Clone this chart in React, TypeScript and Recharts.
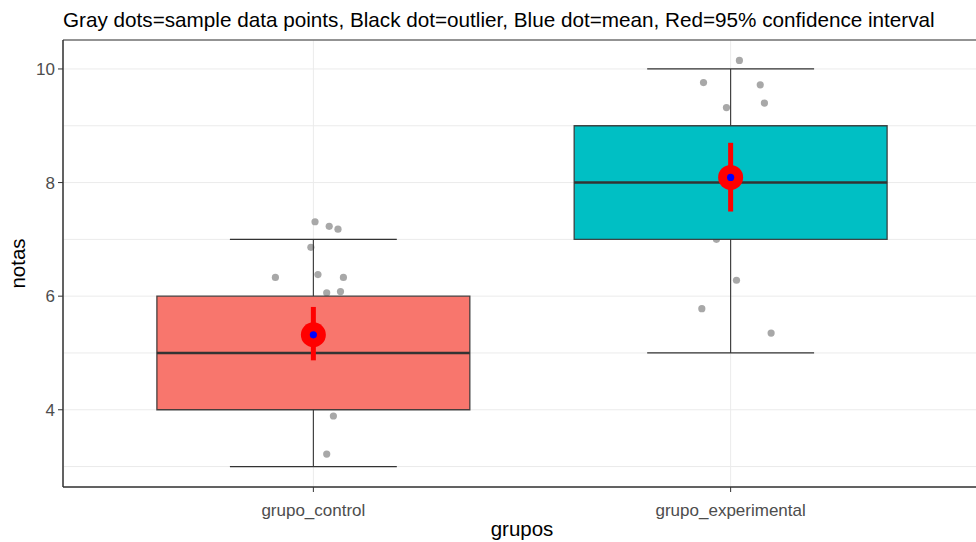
import React from 'react';
import {
  ComposedChart,
  XAxis,
  YAxis,
  CartesianGrid,
  Scatter,
  ReferenceArea,
  ReferenceLine,
  ErrorBar,
  Label,
} from 'recharts';

// ---- data ----
const categories = ['grupo_control', 'grupo_experimental'];
const catPositions = [1, 2];
const whiskerLow = [3, 5];
const quartile1 = [4, 7];
const medians = [5, 8];
const quartile3 = [6, 9];
const whiskerHigh = [7, 10];
const means = [5.32, 8.09];
const ciLow = [4.87, 7.49];
const ciHigh = [5.81, 8.7];

// jittered sample points (x in category units, y = nota)
const controlJitterX = [1.004, 1.038, 1.059, 0.994, 0.909, 1.011, 1.072, 1.032, 1.065, 1.048, 1.032];
const controlValues = [7.31, 7.23, 7.18, 6.86, 6.33, 6.38, 6.33, 6.06, 6.08, 3.89, 3.22];
const experimentalJitterX = [2.021, 1.935, 2.071, 1.99, 2.081, 1.966, 2.014, 1.931, 2.097];
const experimentalValues = [10.15, 9.76, 9.72, 9.32, 9.4, 7.0, 6.28, 5.78, 5.35];

const yTicks = [3, 4, 5, 6, 7, 8, 9, 10];
const yMajorTicks = [4, 6, 8, 10];
const yDomain = [2.64, 10.51];
const xDomain = [0.4, 2.6];

const boxColors = ['#F8766D', '#00BFC4'];
const BOX_HALF = 0.375;
const CAP_HALF = 0.2;

const jitterData = [
  ...controlJitterX.map((x, i) => ({ x, y: controlValues[i] })),
  ...experimentalJitterX.map((x, i) => ({ x, y: experimentalValues[i] })),
];

const meanData = catPositions.map((x, i) => ({
  x,
  y: means[i],
  err: [means[i] - ciLow[i], ciHigh[i] - means[i]],
}));

const FONT = '"Liberation Sans", Arial, sans-serif';
const DARK = '#333333';

const YTick = (props: any) => {
  const { x, y, payload } = props;
  const v = payload.value;
  if (!yMajorTicks.includes(v)) return <g />;
  return (
    <g>
      <line x1={x + 3} x2={x + 8} y1={y} y2={y} stroke={DARK} strokeWidth={1} />
      <text x={x} y={y} dy="0.36em" textAnchor="end" fill="#4D4D4D" fontSize={17} fontFamily={FONT}>
        {v}
      </text>
    </g>
  );
};

const GrayDot = (props: any) => {
  const { cx, cy } = props;
  return <circle cx={cx} cy={cy} r={3.6} fill="#A8A8A8" />;
};

const MeanDot = (props: any) => {
  const { cx, cy } = props;
  return (
    <g>
      <circle cx={cx} cy={cy} r={12.5} fill="#FF0000" />
      <circle cx={cx} cy={cy} r={3.6} fill="#0000FF" />
    </g>
  );
};

export default function App() {
  return (
    <div
      style={{
        position: 'absolute',
        left: 0,
        top: 0,
        width: 976,
        height: 542,
        overflow: 'hidden',
        background: '#FFFFFF',
        fontFamily: FONT,
      }}
    >
      <div
        style={{
          position: 'absolute',
          left: 63,
          top: 8,
          fontSize: 20.7,
          lineHeight: 'normal',
          color: '#000000',
          whiteSpace: 'nowrap',
          fontFamily: FONT,
        }}
      >
        Gray dots=sample data points, Black dot=outlier, Blue dot=mean, Red=95% confidence interval
      </div>
      <ComposedChart
        width={990}
        height={542}
        margin={{ top: 40, right: 9, bottom: 0, left: 0 }}
        style={{ position: 'absolute', left: 0, top: 0 }}
      >
        <CartesianGrid stroke="#EBEBEB" strokeWidth={1} />
        <XAxis
          dataKey="x"
          type="number"
          domain={xDomain}
          ticks={catPositions}
          allowDataOverflow
          tickFormatter={(v: number) => categories[catPositions.indexOf(v)] ?? ''}
          height={55}
          tickSize={5}
          tickMargin={12}
          stroke={DARK}
          tick={{ fill: '#4D4D4D', fontSize: 17, fontFamily: FONT }}
          axisLine={{ stroke: DARK, strokeWidth: 1 }}
          tickLine={{ stroke: DARK }}
        >
          <Label
            value="grupos"
            position="insideTop"
            offset={34}
            fill="#000000"
            fontSize={20.5}
            fontFamily={FONT}
          />
        </XAxis>
        <YAxis
          dataKey="y"
          type="number"
          domain={yDomain}
          ticks={yTicks}
          allowDataOverflow
          width={63}
          tickSize={5}
          tickMargin={3}
          tickLine={false}
          tick={<YTick />}
          axisLine={{ stroke: DARK, strokeWidth: 1 }}
        >
          <Label
            value="notas"
            angle={-90}
            position="center"
            dx={-14}
            fill="#000000"
            fontSize={20.5}
            fontFamily={FONT}
          />
        </YAxis>

        <Scatter
          data={jitterData}
          shape={<GrayDot />}
          isAnimationActive={false}
          zIndex={50}
        />

        {catPositions.map((p, i) => (
          <ReferenceLine
            key={'wu' + i}
            segment={[
              { x: p, y: quartile3[i] },
              { x: p, y: whiskerHigh[i] },
            ]}
            stroke={DARK}
            strokeWidth={1.1}
            zIndex={120}
          />
        ))}
        {catPositions.map((p, i) => (
          <ReferenceLine
            key={'wl' + i}
            segment={[
              { x: p, y: whiskerLow[i] },
              { x: p, y: quartile1[i] },
            ]}
            stroke={DARK}
            strokeWidth={1.1}
            zIndex={120}
          />
        ))}
        {catPositions.map((p, i) => (
          <ReferenceLine
            key={'cu' + i}
            segment={[
              { x: p - CAP_HALF, y: whiskerHigh[i] },
              { x: p + CAP_HALF, y: whiskerHigh[i] },
            ]}
            stroke={DARK}
            strokeWidth={1.3}
            zIndex={120}
          />
        ))}
        {catPositions.map((p, i) => (
          <ReferenceLine
            key={'cl' + i}
            segment={[
              { x: p - CAP_HALF, y: whiskerLow[i] },
              { x: p + CAP_HALF, y: whiskerLow[i] },
            ]}
            stroke={DARK}
            strokeWidth={1.3}
            zIndex={120}
          />
        ))}
        {catPositions.map((p, i) => (
          <ReferenceArea
            key={'box' + i}
            x1={p - BOX_HALF}
            x2={p + BOX_HALF}
            y1={quartile1[i]}
            y2={quartile3[i]}
            fill={boxColors[i]}
            fillOpacity={1}
            stroke={DARK}
            strokeWidth={1.3}
            strokeOpacity={0.9}
            zIndex={150}
          />
        ))}
        {catPositions.map((p, i) => (
          <ReferenceLine
            key={'med' + i}
            segment={[
              { x: p - BOX_HALF, y: medians[i] },
              { x: p + BOX_HALF, y: medians[i] },
            ]}
            stroke={DARK}
            strokeWidth={2.6}
            zIndex={160}
          />
        ))}

        <Scatter
          data={meanData}
          shape={<MeanDot />}
          isAnimationActive={false}
          zIndex={700}
        >
          <ErrorBar
            dataKey="err"
            direction="y"
            width={0}
            stroke="#FF0000"
            strokeWidth={5}
            isAnimationActive={false}
            zIndex={690}
          />
        </Scatter>

        <ReferenceArea
          x1={xDomain[0]}
          x2={xDomain[1]}
          y1={yDomain[0]}
          y2={yDomain[1]}
          fill="none"
          fillOpacity={0}
          stroke={DARK}
          strokeWidth={1}
          zIndex={800}
        />
      </ComposedChart>
    </div>
  );
}
